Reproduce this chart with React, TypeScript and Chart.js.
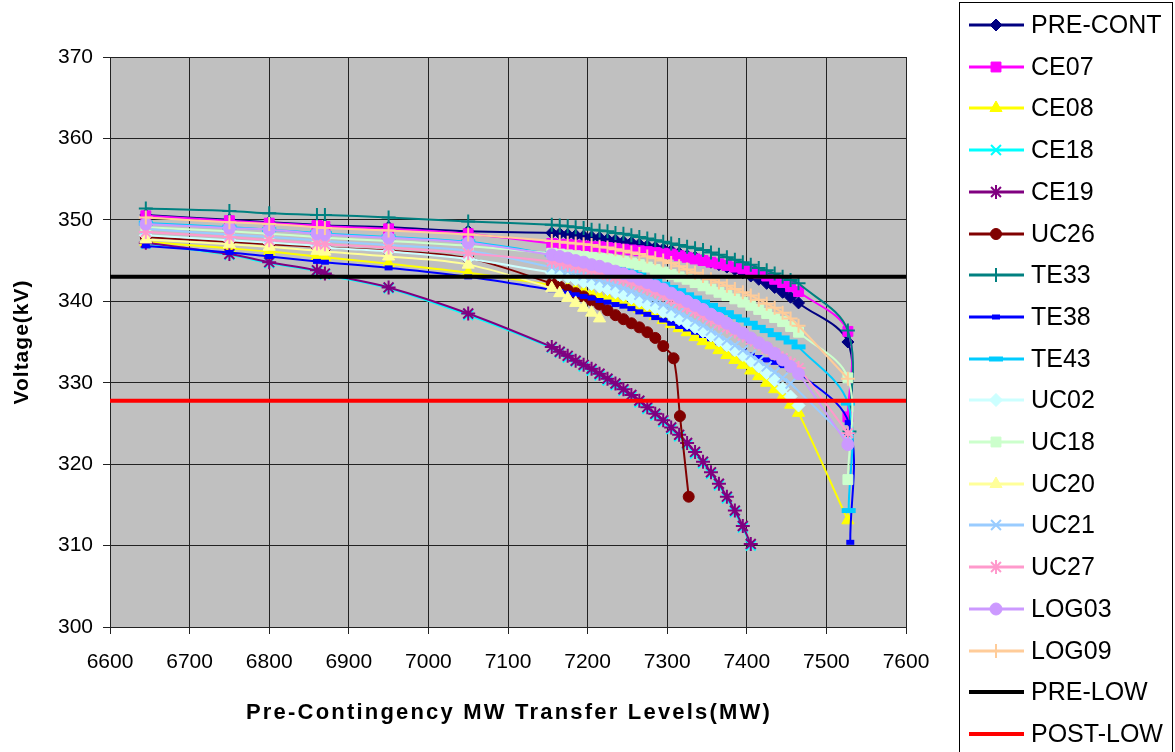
import React, { useEffect, useRef } from 'react';
import { Chart, registerables } from 'chart.js';
import { drawPoint } from 'chart.js/helpers';

Chart.register(...registerables);

const FONT = 'Arial, "Liberation Sans", sans-serif';

// ---- axes ----
const X_TICKS = [6600, 6700, 6800, 6900, 7000, 7100, 7200, 7300, 7400, 7500, 7600];
const Y_TICKS = [300, 310, 320, 330, 340, 350, 360, 370];
const X_TITLE = 'Pre-Contingency MW Transfer Levels(MW)';
const Y_TITLE = 'Voltage(kV)';

// ---- transfer levels (MW) ----
const X_LEFT = [6645, 6750, 6800, 6860, 6870, 6950, 7050];
const X_DENSE = [
  7155, 7165, 7175, 7185, 7195, 7205, 7215, 7225, 7235, 7245,
  7255, 7265, 7275, 7285, 7295, 7305, 7315, 7325, 7335, 7345,
  7355, 7365, 7375, 7385, 7395, 7405, 7415, 7425, 7435, 7445,
  7455, 7465,
];
const X_MAIN = [...X_LEFT, ...X_DENSE];

// ---- voltages (kV) ----
const PRE_CONT = [350.6, 350.0, 349.7, 349.4, 349.3, 349.1, 348.6,
  348.4, 348.3, 348.2, 348.1, 348.0, 347.9, 347.8, 347.6, 347.5, 347.3,
  347.2, 347.0, 346.8, 346.6, 346.4, 346.2, 345.9, 345.6, 345.4, 345.1,
  344.8, 344.5, 344.2, 343.9, 343.5, 343.1, 342.7, 342.2, 341.7, 341.1,
  340.5, 339.8];
const PRE_CONT_TAIL = [[7527, 335.0], [7528, 323.8]];

const CE07 = [350.5, 349.9, 349.6, 349.3, 349.2, 348.9, 348.3,
  347.1, 347.0, 347.0, 346.9, 346.8, 346.7, 346.7, 346.6, 346.5, 346.4,
  346.3, 346.2, 346.1, 346.0, 345.9, 345.8, 345.6, 345.4, 345.2, 345.0,
  344.8, 344.6, 344.4, 344.2, 344.0, 343.7, 343.4, 343.1, 342.7, 342.3,
  341.8, 341.2];
const CE07_TAIL = [[7527, 336.3], [7527, 325.8]];

const CE08 = [347.3, 346.5, 346.1, 345.5, 345.4, 344.6, 343.5,
  342.0, 341.8, 341.6, 341.4, 341.2, 340.9, 340.6, 340.4, 340.1, 339.8,
  339.5, 339.1, 338.7, 338.2, 337.7, 337.2, 336.7, 336.2, 335.6, 335.1,
  334.6, 334.0, 333.4, 332.8, 332.2, 331.5, 330.8, 330.0, 329.2, 328.3,
  327.3, 326.3];
const CE08_TAIL = [[7527, 313.1]];

const CE18 = [347.1, 345.7, 344.7, 343.7, 343.3, 341.6, 338.3,
  334.3, 333.7, 333.1, 332.6, 332.0, 331.5, 330.9, 330.3, 329.7, 329.0,
  328.3, 327.6, 326.8, 326.0, 325.2, 324.3, 323.4, 322.4, 321.3, 320.1,
  318.8, 317.4, 315.8, 314.1, 312.2, 310.0];

const CE19 = [347.2, 345.8, 344.8, 343.8, 343.4, 341.7, 338.5,
  334.4, 333.8, 333.3, 332.7, 332.2, 331.7, 331.1, 330.5, 329.9, 329.2,
  328.5, 327.8, 327.0, 326.2, 325.4, 324.5, 323.6, 322.6, 321.5, 320.3,
  319.0, 317.6, 316.0, 314.3, 312.4, 310.2];

const UC26 = [347.9, 347.3, 347.0, 346.7, 346.6, 346.2, 345.3,
  342.2, 341.8, 341.4, 341.0, 340.6, 340.1, 339.6, 338.9, 338.3, 337.8,
  337.3, 336.8, 336.2, 335.5, 334.5];
const UC26_TAIL = [[7308, 333.0], [7316, 325.9], [7327, 316.0]];

const TE33 = [351.4, 351.1, 350.8, 350.6, 350.6, 350.3, 349.8,
  349.4, 349.3, 349.2, 349.1, 349.0, 348.8, 348.7, 348.6, 348.4, 348.3,
  348.1, 347.9, 347.7, 347.5, 347.3, 347.1, 346.9, 346.7, 346.5, 346.3,
  346.0, 345.7, 345.4, 345.1, 344.8, 344.5, 344.1, 343.8, 343.4, 343.0,
  342.6, 342.2];
const TE33_TAIL = [[7527, 336.4], [7529, 324.0]];

const TE38 = [346.8, 346.0, 345.5, 344.9, 344.8, 344.1, 343.0,
  341.4, 341.2, 341.0, 340.8, 340.6, 340.4, 340.1, 339.9, 339.6, 339.4,
  339.1, 338.7, 338.4, 338.0, 337.7, 337.3, 336.9, 336.6, 336.2, 335.8,
  335.4, 335.0, 334.6, 334.2, 333.8, 333.4, 333.1, 332.8, 332.5, 332.1,
  331.7, 331.3];
const TE38_TAIL = [[7528, 325.1], [7530, 310.4]];

const TE43 = [349.6, 349.1, 348.8, 348.4, 348.3, 347.9, 347.3,
  345.8, 345.6, 345.5, 345.3, 345.1, 344.9, 344.6, 344.4, 344.1, 343.9,
  343.6, 343.3, 342.9, 342.5, 342.1, 341.7, 341.3, 340.8, 340.4, 339.9,
  339.5, 339.0, 338.6, 338.1, 337.7, 337.3, 336.8, 336.4, 335.9, 335.5,
  335.0, 334.4];
const TE43_TAIL = [[7527, 327.5], [7528, 314.3]];

const UC02 = [348.1, 347.5, 347.2, 346.8, 346.6, 346.1, 345.2,
  343.5, 343.2, 343.0, 342.7, 342.4, 342.1, 341.8, 341.5, 341.1, 340.8,
  340.4, 340.0, 339.6, 339.2, 338.7, 338.3, 337.8, 337.3, 336.8, 336.3,
  335.8, 335.2, 334.6, 334.0, 333.4, 332.7, 332.0, 331.2, 330.3, 329.3,
  328.3, 327.2];

const UC18 = [349.1, 348.6, 348.3, 347.9, 347.8, 347.4, 346.8,
  345.9, 345.8, 345.7, 345.6, 345.5, 345.4, 345.3, 345.2, 345.0, 344.9,
  344.7, 344.5, 344.2, 343.9, 343.6, 343.3, 343.0, 342.7, 342.3, 341.9,
  341.5, 341.1, 340.7, 340.3, 339.9, 339.5, 339.0, 338.5, 338.0, 337.5,
  336.9, 336.2];
const UC18_TAIL = [[7527, 330.6], [7527, 318.1]];

const UC20 = [347.6, 347.0, 346.7, 346.2, 346.1, 345.5, 344.5,
  341.6, 341.0, 340.4, 339.8, 339.2, 338.6, 337.9];

const UC21 = [348.9, 348.2, 347.9, 347.5, 347.4, 346.9, 346.2,
  344.2, 344.0, 343.7, 343.5, 343.2, 342.9, 342.6, 342.3, 342.0, 341.6,
  341.2, 340.8, 340.4, 340.0, 339.6, 339.1, 338.6, 338.1, 337.5, 337.0,
  336.4, 335.8, 335.2, 334.6, 334.0, 333.4, 332.7, 332.0, 331.3, 330.6,
  329.9];
const UC21_TAIL = [[7527, 323.0]];

const UC27 = [348.5, 347.9, 347.5, 347.1, 347.0, 346.6, 345.9,
  344.9, 344.7, 344.5, 344.3, 344.1, 343.8, 343.6, 343.3, 343.0, 342.7,
  342.4, 342.0, 341.6, 341.2, 340.8, 340.3, 339.8, 339.3, 338.8, 338.3,
  337.8, 337.3, 336.8, 336.3, 335.8, 335.3, 334.8, 334.2, 333.6, 333.0,
  332.4, 331.8];
const UC27_TAIL = [[7527, 323.8]];

const LOG03 = [349.5, 349.0, 348.8, 348.3, 348.2, 347.8, 347.2,
  345.7, 345.5, 345.3, 345.0, 344.8, 344.5, 344.3, 344.0, 343.7, 343.4,
  343.1, 342.7, 342.3, 341.9, 341.5, 341.0, 340.5, 340.0, 339.5, 339.0,
  338.4, 337.9, 337.3, 336.7, 336.1, 335.5, 334.9, 334.3, 333.6, 332.8,
  332.0, 331.1];
const LOG03_TAIL = [[7527, 322.4]];

const LOG09 = [350.3, 349.7, 349.5, 349.1, 349.0, 348.7, 348.2,
  347.4, 347.3, 347.2, 347.1, 347.0, 346.9, 346.7, 346.6, 346.4, 346.2,
  346.0, 345.8, 345.5, 345.3, 345.0, 344.7, 344.3, 343.9, 343.5, 343.1,
  342.7, 342.3, 341.9, 341.5, 341.1, 340.7, 340.2, 339.7, 339.2, 338.6,
  337.9, 337.0];
const LOG09_TAIL = [[7527, 330.5]];

const LIMIT_X = [6600, 7600];
const PRE_LOW = [343.0, 343.0];
const POST_LOW = [327.8, 327.8];

type Series = {
  label: string; color: string; style: string; radius: number; pbw: number;
  values: number[]; tail: number[][];
};

const SERIES: Series[] = [
  { label: 'PRE-CONT', color: '#000080', style: 'rectRot', radius: 6, pbw: 1, values: PRE_CONT, tail: PRE_CONT_TAIL },
  { label: 'CE07', color: '#FF00FF', style: 'rect', radius: 7, pbw: 1, values: CE07, tail: CE07_TAIL },
  { label: 'CE08', color: '#FFFF00', style: 'triangle', radius: 7, pbw: 1, values: CE08, tail: CE08_TAIL },
  { label: 'CE18', color: '#00FFFF', style: 'crossRot', radius: 7, pbw: 2, values: CE18, tail: [] },
  { label: 'CE19', color: '#800080', style: 'star', radius: 7, pbw: 2, values: CE19, tail: [] },
  { label: 'UC26', color: '#800000', style: 'circle', radius: 5.5, pbw: 1, values: UC26, tail: UC26_TAIL },
  { label: 'TE33', color: '#008080', style: 'cross', radius: 7, pbw: 2, values: TE33, tail: TE33_TAIL },
  { label: 'TE38', color: '#0000FF', style: 'line', radius: 4, pbw: 5, values: TE38, tail: TE38_TAIL },
  { label: 'TE43', color: '#00CCFF', style: 'line', radius: 7, pbw: 5, values: TE43, tail: TE43_TAIL },
  { label: 'UC02', color: '#CCFFFF', style: 'rectRot', radius: 6.5, pbw: 1, values: UC02, tail: [] },
  { label: 'UC18', color: '#CCFFCC', style: 'rect', radius: 7, pbw: 1, values: UC18, tail: UC18_TAIL },
  { label: 'UC20', color: '#FFFF99', style: 'triangle', radius: 7, pbw: 1, values: UC20, tail: [] },
  { label: 'UC21', color: '#99CCFF', style: 'crossRot', radius: 7, pbw: 2, values: UC21, tail: UC21_TAIL },
  { label: 'UC27', color: '#FF99CC', style: 'star', radius: 7, pbw: 2, values: UC27, tail: UC27_TAIL },
  { label: 'LOG03', color: '#CC99FF', style: 'circle', radius: 6, pbw: 1, values: LOG03, tail: LOG03_TAIL },
  { label: 'LOG09', color: '#FFCC99', style: 'cross', radius: 7, pbw: 2, values: LOG09, tail: LOG09_TAIL },
];

const LIMITS = [
  { label: 'PRE-LOW', color: '#000000', values: PRE_LOW },
  { label: 'POST-LOW', color: '#FF0000', values: POST_LOW },
];

const plotBackground = {
  id: 'plotBackground',
  beforeDraw(chart: any) {
    const { ctx, chartArea } = chart;
    ctx.save();
    ctx.fillStyle = '#FFFFFF';
    ctx.fillRect(0, 0, chart.width, chart.height);
    ctx.fillStyle = '#C0C0C0';
    ctx.fillRect(chartArea.left, chartArea.top, chartArea.right - chartArea.left, chartArea.bottom - chartArea.top);
    ctx.restore();
  },
};

const axisTitles = {
  id: 'axisTitles',
  afterDraw(chart: any) {
    const ctx = chart.ctx as any;
    const { chartArea } = chart;
    ctx.save();
    ctx.fillStyle = '#000000';
    ctx.font = `bold 22px ${FONT}`;
    ctx.textAlign = 'center';
    ctx.textBaseline = 'middle';
    ctx.letterSpacing = '2.2px';
    ctx.fillText(X_TITLE, (chartArea.left + chartArea.right) / 2 + 1, 713);
    ctx.font = `bold 21px ${FONT}`;
    ctx.letterSpacing = '1px';
    ctx.translate(22, (chartArea.top + chartArea.bottom) / 2);
    ctx.rotate(-Math.PI / 2);
    ctx.fillText(Y_TITLE, 0, 0);
    ctx.restore();
  },
};

const excelLegend = {
  id: 'excelLegend',
  afterDraw(chart: any) {
    const ctx = chart.ctx as CanvasRenderingContext2D;
    ctx.save();
    ctx.fillStyle = '#FFFFFF';
    ctx.fillRect(959, 2, 214, 760);
    ctx.strokeStyle = '#000000';
    ctx.lineWidth = 1;
    ctx.strokeRect(959.5, 2.5, 213, 760);
    const items = [
      ...SERIES.map((s) => ({ label: s.label, color: s.color, style: s.style, radius: s.radius, pbw: s.pbw, limit: false })),
      ...LIMITS.map((l) => ({ label: l.label, color: l.color, style: '', radius: 0, pbw: 0, limit: true })),
    ];
    items.forEach((it, i) => {
      const y = Math.round(25 + i * 41.7);
      ctx.strokeStyle = it.color;
      ctx.lineWidth = it.limit ? 4 : 3;
      ctx.beginPath();
      ctx.moveTo(969, y);
      ctx.lineTo(1024, y);
      ctx.stroke();
      if (it.style) {
        ctx.fillStyle = it.color;
        ctx.strokeStyle = it.color;
        ctx.lineWidth = it.pbw;
        drawPoint(ctx, { pointStyle: it.style as any, radius: it.radius, borderWidth: it.pbw, rotation: 0 } as any, 996, y);
      }
      ctx.fillStyle = '#000000';
      ctx.font = `25px ${FONT}`;
      ctx.textAlign = 'left';
      ctx.textBaseline = 'middle';
      ctx.fillText(it.label, 1031, y + 1);
    });
    ctx.restore();
  },
};

export default function App() {
  const canvasRef = useRef<HTMLCanvasElement | null>(null);

  useEffect(() => {
    if (!canvasRef.current) return;
    const datasets: any[] = SERIES.map((s, i) => ({
      label: s.label,
      data: [
        ...s.values.map((v, k) => ({ x: X_MAIN[k], y: v })),
        ...s.tail.map(([x, y]) => ({ x, y })),
      ],
      borderColor: s.color,
      backgroundColor: s.color,
      borderWidth: 2,
      tension: 0.35,
      pointStyle: s.style,
      pointRadius: s.radius,
      pointBorderWidth: s.pbw,
      pointBackgroundColor: s.color,
      pointBorderColor: s.color,
      order: 100 - i,
    }));
    LIMITS.forEach((l, j) => {
      datasets.push({
        label: l.label,
        data: l.values.map((v, k) => ({ x: LIMIT_X[k], y: v })),
        borderColor: l.color,
        backgroundColor: l.color,
        borderWidth: 4,
        tension: 0,
        pointRadius: 0,
        order: 10 - j,
      });
    });

    const chart = new Chart(canvasRef.current, {
      type: 'line',
      data: { datasets },
      plugins: [plotBackground, axisTitles, excelLegend],
      options: {
        animation: false,
        responsive: false,
        devicePixelRatio: 1,
        layout: { padding: { left: 0, right: 269, top: 57, bottom: 0 } },
        plugins: {
          legend: { display: false },
          tooltip: { enabled: false },
        },
        scales: {
          x: {
            type: 'linear',
            min: 6600,
            max: 7600,
            afterBuildTicks: (scale: any) => { scale.ticks = X_TICKS.map((v) => ({ value: v })); },
            afterFit: (scale: any) => { scale.height = 125; },
            ticks: {
              callback: (v: any) => String(v),
              font: { size: 21, family: FONT },
              color: '#000000',
              padding: 16,
              maxRotation: 0,
              autoSkip: false,
            },
            grid: { color: '#222222', lineWidth: 1, tickLength: 7 },
            border: { color: '#222222', width: 1 },
            title: { display: false, text: X_TITLE },
          },
          y: {
            type: 'linear',
            min: 300,
            max: 370,
            afterBuildTicks: (scale: any) => { scale.ticks = Y_TICKS.map((v) => ({ value: v })); },
            afterFit: (scale: any) => { scale.width = 110; },
            ticks: {
              callback: (v: any) => String(v),
              font: { size: 21, family: FONT },
              color: '#000000',
              padding: 10,
              autoSkip: false,
            },
            grid: { color: '#222222', lineWidth: 1, tickLength: 7 },
            border: { color: '#222222', width: 1 },
            title: { display: false, text: Y_TITLE },
          },
        },
      } as any,
    });
    return () => chart.destroy();
  }, []);

  return (
    <div style={{ position: 'absolute', left: 0, top: 0, width: 1175, height: 752, background: '#fff' }}>
      <canvas ref={canvasRef} width={1175} height={752} style={{ display: 'block' }} />
    </div>
  );
}
